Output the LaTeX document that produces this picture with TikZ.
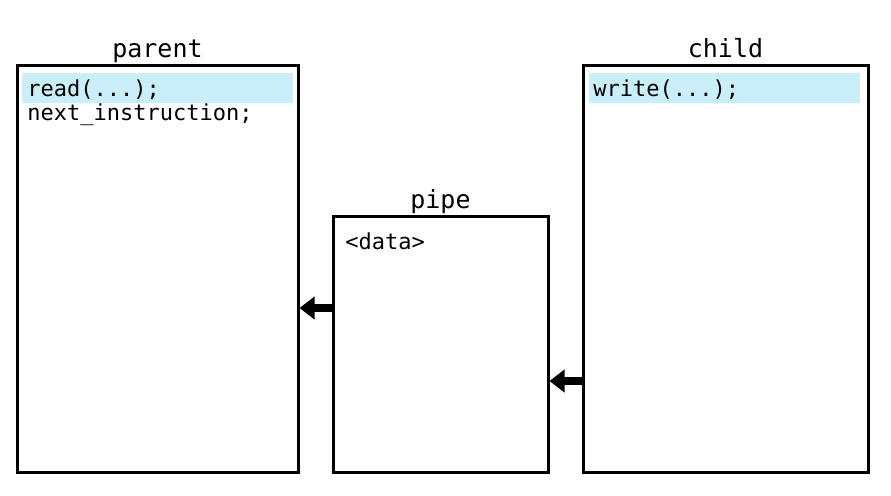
\documentclass[tikz,border=0pt]{standalone}
\usepackage{fontspec}
\setmonofont{DejaVu Sans Mono}
\usetikzlibrary{arrows.meta}
\definecolor{lineabg}{RGB}{202,238,250}
\tikzstyle{caja}=[draw, line width=1.5pt, rectangle, inner sep=0pt]
\tikzstyle{titulo}=[anchor=base, font=\ttfamily\fontsize{12.5}{14}\selectfont]
\tikzstyle{codigo}=[anchor=base west, inner sep=0pt, font=\ttfamily\fontsize{11}{13}\selectfont]
\tikzstyle{resalte}=[fill=lineabg, rectangle, inner sep=0pt, minimum height=15pt]
\tikzstyle{flecha}=[line width=4pt, -{Triangle[length=7.5pt, width=11pt]}]

\begin{document}
\begin{tikzpicture}[x=0.5pt, y=-0.5pt]
            \useasboundingbox (0,0) rectangle (891,495);
            % Procesos
            \node[caja, minimum width=140.5pt, minimum height=203.5pt] (parent) at (157.5,268.5) {};
            \node[caja, minimum width=142.5pt, minimum height=203.5pt] (child) at (725.5,268.5) {};
            \node[caja, minimum width=107.5pt, minimum height=128pt] (pipe) at (440.5,344) {};
            % Titulos
            \node[titulo] (tparent) at (157.5,57) {parent};
            \node[titulo] (tchild) at (725.5,57) {child};
            \node[titulo] (tpipe) at (440.5,208) {pipe};
            % Lineas resaltadas
            \node[resalte, minimum width=135.5pt] (hparent) at (157.5,88) {};
            \node[resalte, minimum width=135.5pt] (hchild) at (724.5,88) {};
            % Codigo
            \node[codigo] (read) at (27,96) {read(...);};
            \node[codigo] (next) at (27,120.5) {next\_instruction;};
            \node[codigo] (write) at (593,96) {write(...);};
            \node[codigo] (data) at (345,249) {<data>};
            % Flechas
            \draw[flecha] (pipe.west |- 0,308) -- (parent.east |- 0,308);
            \draw[flecha] (child.west |- 0,381) -- (pipe.east |- 0,381);
\end{tikzpicture}
\end{document}
